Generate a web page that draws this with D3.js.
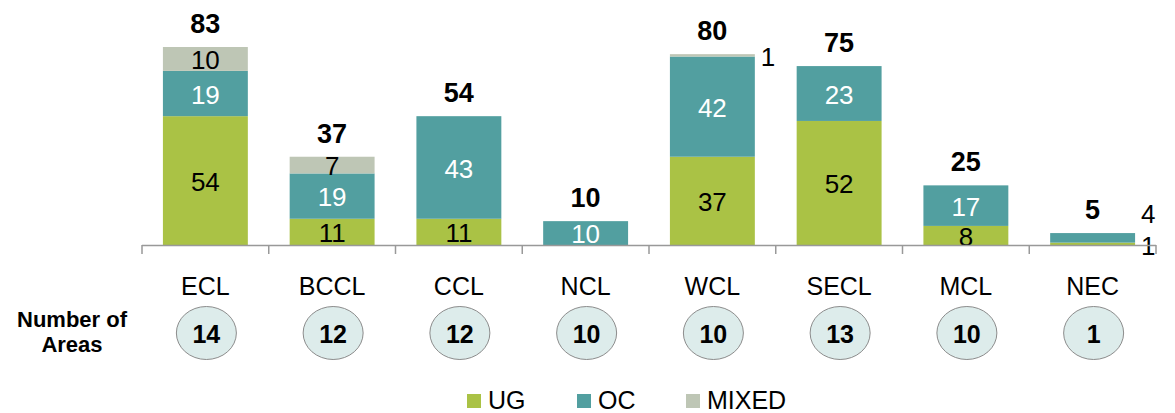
<!DOCTYPE html>
<html>
<head>
<meta charset="utf-8">
<script src="https://cdn.jsdelivr.net/npm/d3@7"></script>
<style>
  body { margin: 0; background: #fff; }
  svg { font-family: "Liberation Sans", Arial, sans-serif; }
</style>
</head>
<body>
<div id="chart"></div>
<script>
// data
var companies = ["ECL", "BCCL", "CCL", "NCL", "WCL", "SECL", "MCL", "NEC"];
var ugValues = [54, 11, 11, 0, 37, 52, 8, 1];
var ocValues = [19, 19, 43, 10, 42, 23, 17, 4];
var mixedValues = [10, 7, 0, 0, 1, 0, 0, 0];
var totals = [83, 37, 54, 10, 80, 75, 25, 5];
var areaCounts = [14, 12, 12, 10, 10, 13, 10, 1];
var seriesNames = ["UG", "OC", "MIXED"];

function init() {
	var w = 1175;
	var h = 413;
	var colors = { UG: "#aac245", OC: "#529fa0", MIXED: "#bec6b5" };
	var textColors = { UG: "#000", OC: "#fff", MIXED: "#000" };

	var svg = d3.select("#chart")
		.append("svg")
		.attr("width", w)
		.attr("height", h);

	var xScale = d3.scaleBand()
		.domain(companies)
		.range([142, 1156])
		.paddingInner(0.33)
		.paddingOuter(0.165);

	var yScale = d3.scaleLinear()
		.domain([0, 83])
		.range([245, 47]);

	// build rows for stacking
	var rows = companies.map(function(c, i) {
		return { company: c, UG: ugValues[i], OC: ocValues[i], MIXED: mixedValues[i] };
	});
	var stacked = d3.stack().keys(seriesNames)(rows);

	// bars
	var groups = svg.append("g")
		.selectAll("g")
		.data(stacked)
		.enter()
		.append("g")
		.attr("fill", function(d) { return colors[d.key]; });

	groups.selectAll("rect")
		.data(function(d) { return d; })
		.enter()
		.append("rect")
		.attr("x", function(d) { return xScale(d.data.company); })
		.attr("y", function(d) { return yScale(d[1]); })
		.attr("height", function(d) { return yScale(d[0]) - yScale(d[1]); })
		.attr("width", xScale.bandwidth());

	// segment labels
	var lastOutside = {};
	stacked.forEach(function(layer) {
		layer.forEach(function(d) {
			var v = d[1] - d[0];
			if (v <= 0) return;
			var c = d.data.company;
			var y0 = yScale(d[0]), y1 = yScale(d[1]);
			var mid = (y0 + y1) / 2;
			var inside = (y0 - y1) >= 15;
			var x, anchor, fill, yy;
			if (inside) {
				x = xScale(c) + xScale.bandwidth() / 2;
				anchor = "middle";
				fill = textColors[layer.key];
				yy = mid + 1;
			} else {
				x = xScale(c) + xScale.bandwidth() + 6;
				anchor = "start";
				fill = "#000";
				yy = mid + 2;
				if (lastOutside[c] !== undefined && lastOutside[c] - yy < 30) {
					yy = lastOutside[c] - 32;
				}
				lastOutside[c] = yy;
			}
			svg.append("text")
				.attr("x", x)
				.attr("y", yy)
				.attr("dy", "0.35em")
				.attr("text-anchor", anchor)
				.style("font-size", "26px")
				.style("fill", fill)
				.text(v);
		});
	});

	// totals
	svg.append("g")
		.selectAll("text")
		.data(companies)
		.enter()
		.append("text")
		.attr("x", function(d) { return xScale(d) + xScale.bandwidth() / 2; })
		.attr("y", function(d, i) { return yScale(totals[i]) - 14; })
		.attr("text-anchor", "middle")
		.style("font-size", "27px")
		.style("font-weight", "bold")
		.text(function(d, i) { return totals[i]; });

	// x axis
	var axis = svg.append("g");
	axis.append("line")
		.attr("x1", 142).attr("x2", 1156)
		.attr("y1", 245.5).attr("y2", 245.5)
		.attr("stroke", "#999").attr("stroke-width", 1.5);
	var edges = d3.range(companies.length + 1).map(function(i) { return 142 + i * (1156 - 142) / companies.length; });
	axis.selectAll("line.tick")
		.data(edges)
		.enter()
		.append("line")
		.attr("class", "tick")
		.attr("x1", function(d) { return d; }).attr("x2", function(d) { return d; })
		.attr("y1", 245).attr("y2", 254)
		.attr("stroke", "#999").attr("stroke-width", 1.5);

	axis.selectAll("text")
		.data(companies)
		.enter()
		.append("text")
		.attr("x", function(d) { return xScale(d) + xScale.bandwidth() / 2; })
		.attr("y", 295)
		.attr("text-anchor", "middle")
		.style("font-size", "25px")
		.text(function(d) { return d; });

	// number of areas row
	var areaLabel = svg.append("text")
		.attr("x", 72)
		.attr("text-anchor", "middle")
		.style("font-size", "22px")
		.style("font-weight", "bold");
	areaLabel.append("tspan").attr("x", 72).attr("y", 327).text("Number of");
	areaLabel.append("tspan").attr("x", 72).attr("y", 352).text("Areas");

	var circles = svg.append("g")
		.selectAll("g")
		.data(companies)
		.enter()
		.append("g")
		.attr("transform", function(d) {
			return "translate(" + (xScale(d) + xScale.bandwidth() / 2 + 1) + ",333)";
		});
	circles.append("ellipse")
		.attr("rx", 30)
		.attr("ry", 26.5)
		.attr("fill", "#ddeceb")
		.attr("stroke", "#8c8c8c")
		.attr("stroke-width", 1);
	circles.append("text")
		.attr("y", 1)
		.attr("dy", "0.35em")
		.attr("text-anchor", "middle")
		.style("font-size", "25px")
		.style("font-weight", "bold")
		.text(function(d, i) { return areaCounts[i]; });

	// legend
	var legendX = [467, 577, 686];
	var legend = svg.append("g")
		.selectAll("g")
		.data(seriesNames)
		.enter()
		.append("g")
		.attr("transform", function(d, i) { return "translate(" + legendX[i] + ",394)"; });
	legend.append("rect")
		.attr("width", 14).attr("height", 14)
		.attr("fill", function(d) { return colors[d]; });
	legend.append("text")
		.attr("x", 21)
		.attr("y", 15)
		.style("font-size", "25px")
		.text(function(d) { return d; });
}
window.onload = init;
</script>
</body>
</html>
